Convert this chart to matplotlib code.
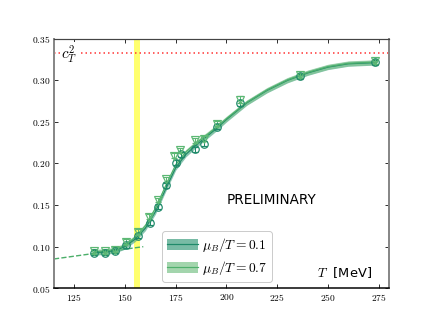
import numpy as np
import matplotlib
matplotlib.use("Agg")
import matplotlib.pyplot as plt
from matplotlib.patches import Patch
from matplotlib.lines import Line2D

plt.rcParams['mathtext.fontset'] = 'cm'
plt.rcParams['font.family'] = ['DejaVu Sans']

# lattice data: temperature [MeV] and c_T^2
T_data = [134.6, 140.0, 144.9, 150.6, 156.3, 162.4, 166.5, 170.2, 175.1, 177.5, 184.5, 189.0, 195.5, 206.5, 236.4, 273.2]
c2_mu01 = [0.0925, 0.0925, 0.0946, 0.1018, 0.1127, 0.1287, 0.1480, 0.1740, 0.2010, 0.2110, 0.2170, 0.2240, 0.2440, 0.2730, 0.3050, 0.3220]
err_mu01 = [0.003, 0.003, 0.003, 0.003, 0.003, 0.003, 0.003, 0.003, 0.003, 0.003, 0.003, 0.003, 0.003, 0.004, 0.003, 0.003]
T_data7 = [134.6, 140.0, 144.9, 150.6, 156.3, 161.6, 166.5, 170.2, 174.1, 177.3, 184.5, 189.0, 195.5, 206.5, 236.4, 273.2]
c2_mu07 = [0.0940, 0.0940, 0.0960, 0.1058, 0.1175, 0.1360, 0.1560, 0.1810, 0.2090, 0.2160, 0.2280, 0.2300, 0.2480, 0.2770, 0.3060, 0.3230]
err_mu07 = [0.003, 0.003, 0.003, 0.003, 0.003, 0.003, 0.003, 0.003, 0.003, 0.003, 0.003, 0.003, 0.003, 0.004, 0.003, 0.003]

# fitted curves
T_fit = [134.6, 140, 145, 150, 155, 160, 165, 170, 175, 180, 185, 190, 195, 200, 210, 220, 230, 240, 250, 260, 274]
fit_mu01 = [0.0925, 0.0935, 0.0950, 0.1000, 0.1090, 0.1220, 0.1420, 0.1690, 0.1950, 0.2110, 0.2220, 0.2320, 0.2420, 0.2530, 0.2730, 0.2880, 0.3000, 0.3090, 0.3160, 0.3200, 0.3215]
fit_mu07 = [0.0935, 0.0945, 0.0960, 0.1015, 0.1110, 0.1250, 0.1460, 0.1730, 0.1985, 0.2140, 0.2245, 0.2340, 0.2435, 0.2540, 0.2735, 0.2885, 0.3005, 0.3095, 0.3165, 0.3205, 0.3220]
fit_width = 0.003

# hadron resonance gas (dashed)
T_hrg = [115, 159]
c2_hrg = [0.085, 0.0998]

Tc_band = [154.5, 157.5]
conformal = 1.0 / 3.0

col01 = '#1f8a6a'
col07 = '#5cb874'
band01 = '#3f9f7f'
band07 = '#7cc48a'

fig = plt.figure(figsize=(6, 4.5), dpi=72)
ax = fig.add_axes([0.125, 0.111, 0.775, 0.769])

ax.axvspan(Tc_band[0], Tc_band[1], color='#ffff55', alpha=0.85, lw=0, zorder=1)
ax.axhline(conformal, color='#ff3030', ls=(0, (1, 2)), lw=1.5, zorder=1)
ax.text(118.6, conformal - 0.002, r'$c_T^2$', fontsize=15, va='center', ha='left',
        bbox=dict(facecolor='white', edgecolor='none', pad=1.5), zorder=2)

ax.plot(T_hrg, c2_hrg, ls='--', color='#4caf6a', lw=1.4, zorder=2)

f1 = np.array(fit_mu01)
f7 = np.array(fit_mu07)
ax.fill_between(T_fit, f1 - fit_width, f1 + fit_width, color=band01, alpha=0.6, lw=0, zorder=3)
ax.plot(T_fit, f1, color=col01, lw=1.2, zorder=4)
ax.fill_between(T_fit, f7 - fit_width, f7 + fit_width, color=band07, alpha=0.6, lw=0, zorder=3)
ax.plot(T_fit, f7, color='#4fb06c', lw=1.2, zorder=4)

ax.errorbar(T_data, c2_mu01, yerr=err_mu01, fmt='o', mfc='none', mec=col01, ecolor=col01,
            ms=7.5, mew=1.2, capsize=3, elinewidth=1, zorder=5)
ax.errorbar(T_data7, c2_mu07, yerr=err_mu07, fmt='v', mfc='none', mec=col07, ecolor=col07,
            ms=7.5, mew=1.2, capsize=3, elinewidth=1, zorder=5)

h1 = (Patch(facecolor=band01, alpha=0.7, lw=0), Line2D([], [], color=col01, lw=1.2))
h2 = (Patch(facecolor=band07, alpha=0.7, lw=0), Line2D([], [], color='#4fb06c', lw=1.2))
leg = ax.legend([h1, h2], [r'$\mu_B/T = 0.1$', r'$\mu_B/T = 0.7$'], loc='lower left',
                bbox_to_anchor=(0.315, 0.015), fontsize=13.5, handlelength=2.3, handleheight=0.9,
                handletextpad=0.3, borderpad=0.35, labelspacing=0.35, framealpha=1,
                borderaxespad=0.2)

ax.text(222, 0.156, 'PRELIMINARY', fontsize=13.5, ha='center', va='center')
ax.text(271.5, 0.069, r'$T$  [MeV]', fontsize=13, ha='right', va='center')

ax.set_xlim(115, 280)
ax.set_ylim(0.05, 0.35)
xt = [125, 150, 175, 200, 225, 250, 275]
yt = [0.05, 0.10, 0.15, 0.20, 0.25, 0.30, 0.35]
ax.set_xticks(xt)
ax.set_xticklabels([f'${v}$' for v in xt])
ax.set_yticks(yt)
ax.set_yticklabels([f'${v:.2f}$' for v in yt])
ax.tick_params(direction='in', top=True, right=True, labelsize=9.5, length=4)

for s in ['left', 'right']:
    ax.spines[s].set_color('#888888')
    ax.spines[s].set_linewidth(2)
ax.spines['top'].set_color('#444444')
ax.spines['top'].set_linewidth(1.2)
ax.spines['bottom'].set_color('black')
ax.spines['bottom'].set_linewidth(1.5)

fig.savefig('out.png', dpi=72)
